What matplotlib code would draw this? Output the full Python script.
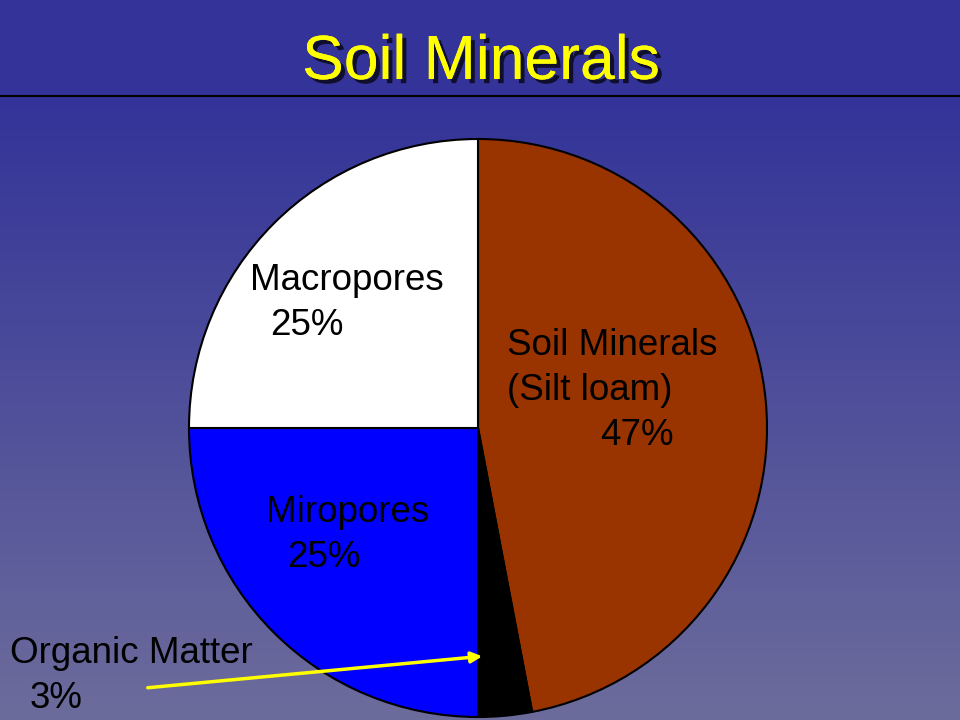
import matplotlib
matplotlib.use("Agg")
import matplotlib.pyplot as plt
import matplotlib.patheffects as pe
import numpy as np
from matplotlib.colors import LinearSegmentedColormap

# data
labels = ["Soil Minerals", "Organic Matter", "Miropores", "Macropores"]
values = [47, 3, 25, 25]
colors = ["#993300", "#000000", "#0000FF", "#FFFFFF"]

W, H = 960, 720
fig = plt.figure(figsize=(9.6, 7.2), dpi=100)
ax = fig.add_axes([0, 0, 1, 1])

# background: flat title band, then gradient down
cmap = LinearSegmentedColormap.from_list("bg", ["#333399", "#6C6C9C"])
grad = np.linspace(0, 1, 256).reshape(-1, 1)
ax.imshow(grad, cmap=cmap, extent=[0, W, 0, H - 96], origin="upper", aspect="auto", zorder=0)
ax.fill_between([0, W], H - 96, H, color="#333399", zorder=0)
ax.plot([0, W], [H - 96, H - 96], color="black", lw=1.5, zorder=1)

# title
ax.text(481, H - 79, "Soil Minerals", color="#FFFF00", fontsize=45, family="Liberation Sans",
        ha="center", va="baseline", zorder=5,
        path_effects=[pe.withSimplePatchShadow(offset=(3, -3), shadow_rgbFace="black", alpha=0.7), pe.Normal()])

# pie
ax.pie(values, colors=colors, startangle=90, counterclock=False, center=(478, H - 428), radius=289,
       wedgeprops=dict(edgecolor="black", linewidth=1.5), frame=True)
ax.set_xlim(0, W)
ax.set_ylim(0, H)
ax.set_aspect("equal")
ax.axis("off")

fs = 26.5
font = "Liberation Sans"
def lbl(x, y, s):
    ax.text(x, H - y, s, fontsize=fs, family=font, color="black", ha="left", va="baseline", zorder=6)

lbl(250, 290, "Macropores")
lbl(270, 335, "25%")
lbl(507, 355, "Soil Minerals")
lbl(507, 400, "(Silt loam)")
lbl(600, 445, "47%")
lbl(266, 522, "Miropores")
lbl(287, 567, "25%")
lbl(10, 663, "Organic Matter")
lbl(30, 708, "3%")

ax.annotate("", xy=(485, H - 656), xytext=(145, H - 688),
            arrowprops=dict(arrowstyle="-|>", color="#FFFF00", lw=2.5, mutation_scale=16), zorder=7)

fig.savefig("out.png", dpi=100)
